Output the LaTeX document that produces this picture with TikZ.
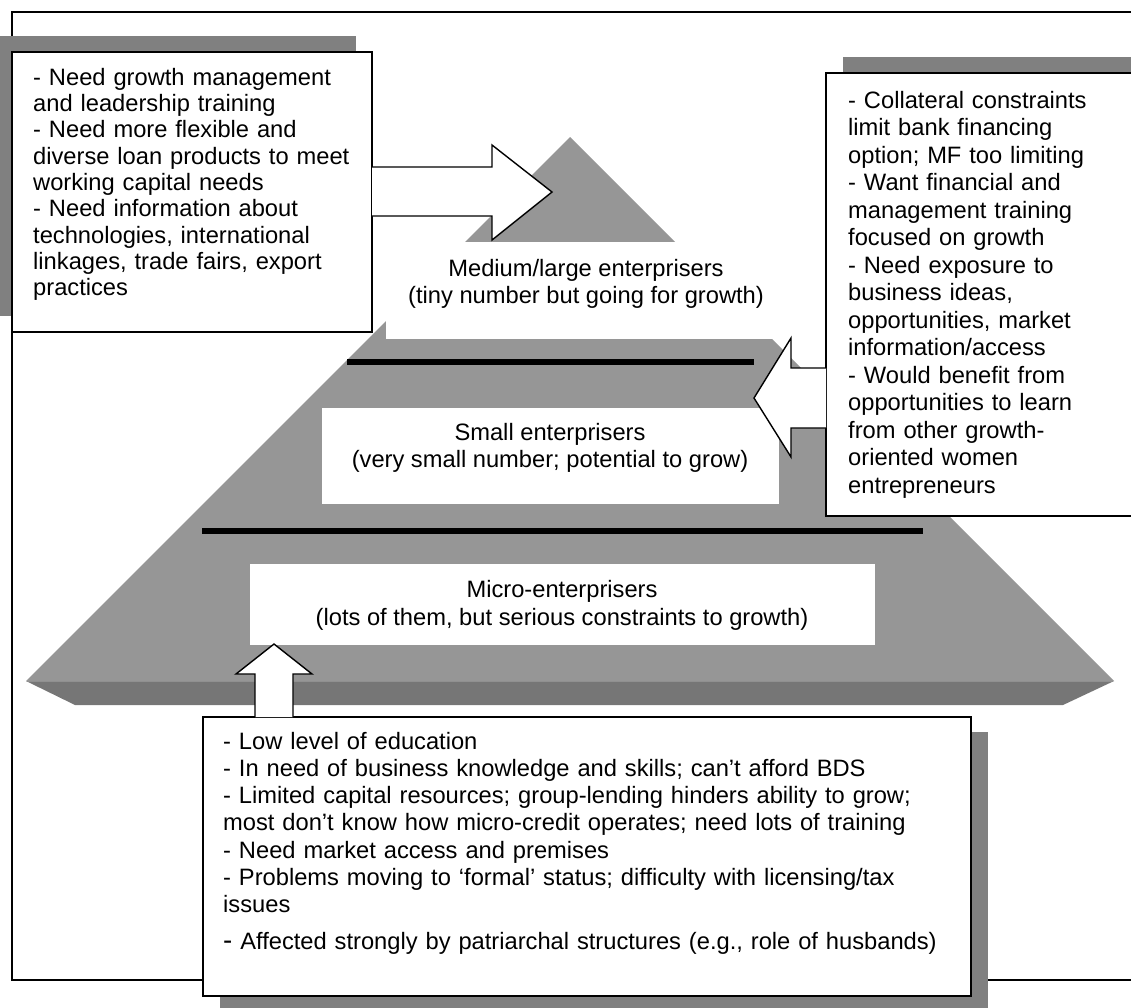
\documentclass[tikz,border=0pt]{standalone}
\usepackage{fontspec}
\setmainfont{Liberation Sans}
\usetikzlibrary{shadows}

\definecolor{pyrface}{RGB}{150,150,150}
\definecolor{pyrband}{RGB}{118,118,118}
\definecolor{boxshade}{RGB}{128,128,128}

\tikzset{
  needbox/.style={draw=black, line width=1.4pt, fill=white, rectangle,
    inner sep=0pt, outer sep=0pt, anchor=north west},
  shade offset/.style 2 args={general shadow={fill=boxshade,
    shadow xshift=#1, shadow yshift=#2}},
  needtext/.style={anchor=north west, inner sep=0pt, align=left, text width=#1},
  tierlabel/.style={fill=white, inner sep=0pt, outer sep=0pt, anchor=north west},
  tiertext/.style={anchor=north, inner sep=0pt, align=center},
  tierline/.style={line width=5.5pt},
  blockarrow/.style={draw=black, line width=1.4pt, fill=white, line join=miter},
}

\begin{document}
\begin{tikzpicture}[x=1pt, y=-1pt]
\useasboundingbox (0,0) rectangle (1131,1007);
\clip (0,0) rectangle (1131,1007);

% outer frame
\draw[line width=1.4pt] (12,12) rectangle (1160,980);

% pyramid: front face and lower edge
\fill[pyrface] (570,137) -- (1114,681) -- (26,681) -- cycle;
\fill[pyrband] (26,681) -- (75,705) -- (1063,705) -- (1114,681) -- cycle;
\draw[pyrface!80!pyrband, line width=1pt] (27,681.5) -- (1113,681.5);

% tier labels
\node[tierlabel, minimum width=400pt, minimum height=97pt] (medRect) at (386,242) {};
\node[tiertext, font=\fontsize{23.7}{27}\selectfont] (medText) at (586,257.1)
  {\strut Medium/large enterprisers\\(tiny number but going for growth)};

\node[tierlabel, minimum width=457pt, minimum height=96pt] (smallRect) at (322,408) {};
\node[tiertext, font=\fontsize{23.7}{27}\selectfont] (smallText) at (550,421.1)
  {\strut Small enterprisers\\(very small number; potential to grow)};

\node[tierlabel, minimum width=625pt, minimum height=81pt] (microRect) at (250,564) {};
\node[tiertext, font=\fontsize{23.7}{28}\selectfont] (microText) at (562,577.4)
  {\strut Micro-enterprisers\\(lots of them, but serious constraints to growth)};

% tier dividers
\draw[tierline] (347,362) -- (754,362);
\draw[tierline] (202,531) -- (923,531);

% boxes of needs
\node[needbox, shade offset={-16pt}{16pt}, minimum width=360pt, minimum height=280pt]
  (needsTop) at (12,52) {};
\node[needbox, shade offset={17pt}{16pt}, minimum width=330pt, minimum height=443pt]
  (needsSmall) at (826,73) {};
\node[needbox, shade offset={17pt}{-15pt}, minimum width=768pt, minimum height=279pt]
  (needsMicro) at (203,717) {};

% block arrows from the boxes to the tiers
\draw[blockarrow] (needsTop.east |- 0,167) -- (492,167) -- (492,145) -- (552,192)
  -- (492,240) -- (492,216) -- (needsTop.east |- 0,216);
\draw[blockarrow] (needsSmall.west |- 0,368) -- (791,368) -- (791,338) -- (754,398)
  -- (791,457) -- (791,428) -- (needsSmall.west |- 0,428);
\draw[blockarrow] (255,0 |- needsMicro.north) -- (255,674) -- (236,674) -- (274,644)
  -- (312,674) -- (293,674) -- (293,0 |- needsMicro.north);

% texts of the boxes
\node[needtext=330pt, font=\fontsize{23.7}{26.3}\selectfont] (needsTopText) at (33,66.6)
  {\strut- Need growth management\\
   and leadership training\\
   - Need more flexible and\\
   diverse loan products to meet\\
   working capital needs\\
   - Need information about\\
   technologies, international\\
   linkages, trade fairs, export\\
   practices};

\node[needtext=280pt, font=\fontsize{23.7}{27.5}\selectfont] (needsSmallText) at (848,88.75)
  {\strut- Collateral constraints\\
   limit bank financing\\
   option; MF too limiting\\
   - Want financial and\\
   management training\\
   focused on growth\\
   - Need exposure to\\
   business ideas,\\
   opportunities, market\\
   information/access\\
   - Would benefit from\\
   opportunities to learn\\
   from other growth-\\
   oriented women\\
   entrepreneurs};

\node[needtext=740pt, font=\fontsize{23.7}{27.2}\selectfont] (needsMicroText) at (223,730)
  {\strut- Low level of education\\
   - In need of business knowledge and skills; can’t afford BDS\\
   - Limited capital resources; group-lending hinders ability to grow;\\
   most don’t know how micro-credit operates; need lots of training\\
   - Need market access and premises\\
   - Problems moving to ‘formal’ status; difficulty with licensing/tax\\
   issues\\[10pt]
   {\fontsize{27.6}{27.2}\selectfont -} Affected strongly by patriarchal structures (e.g., role of husbands)};
\end{tikzpicture}
\end{document}
